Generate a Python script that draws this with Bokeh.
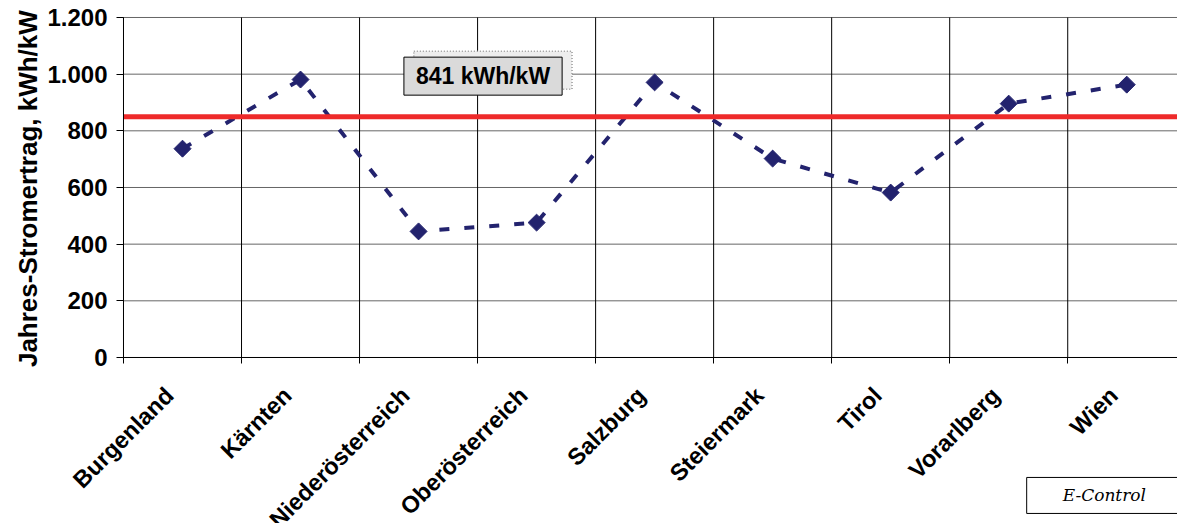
import math
from bokeh.plotting import figure
from bokeh.models import FixedTicker, Label, LabelSet, Range1d, ColumnDataSource
from bokeh.core.properties import value
from bokeh.embed import file_html
from bokeh.resources import INLINE

categories = ["Burgenland", "Kärnten", "Niederösterreich", "Oberösterreich", "Salzburg",
              "Steiermark", "Tirol", "Vorarlberg", "Wien"]
yield_values = [737, 981, 445, 476, 971, 702, 582, 896, 963]
avg_value = 850
avg_text = "841 kWh/kW"
y_ticks = [0, 200, 400, 600, 800, 1000, 1200]
y_tick_labels = ["0", "200", "400", "600", "800", "1.000", "1.200"]
y_title = "Jahres-Stromertrag, kWh/kW"
source_text = "E-Control"

n = len(categories)
xs = [i + 0.5 for i in range(n)]
bounds = list(range(n + 1))
src = ColumnDataSource(dict(x=xs, y=yield_values, cat=categories, y0=[y_ticks[0]] * n))
vgrid_src = ColumnDataSource(dict(x=bounds, y0=[y_ticks[0]] * len(bounds),
                                  y1=[y_ticks[-1]] * len(bounds)))
hgrid_src = ColumnDataSource(dict(y=y_ticks, x0=[bounds[0]] * len(y_ticks),
                                  x1=[bounds[-1]] * len(y_ticks)))
avg_src = ColumnDataSource(dict(y=[avg_value], x0=[bounds[0]], x1=[bounds[-1]]))

FONT = "Liberation Sans"
NAVY = "#23236E"

# The frame covers the whole canvas; both axes are drawn at value 0 inside it,
# so that all texts (annotations) are visible and nothing is clipped.
p = figure(width=1177, height=523, output_backend="svg", toolbar_location=None,
           x_range=Range1d(-1.042, 8.93), y_range=Range1d(-586, 1260),
           min_border_left=0, min_border_right=0, min_border_top=0, min_border_bottom=0)
p.outline_line_color = None
p.xgrid.grid_line_color = None
p.ygrid.grid_line_color = None

# category axis: tick marks at category boundaries
p.xaxis.fixed_location = 0
p.xaxis.bounds = (bounds[0], bounds[-1])
p.xaxis.ticker = FixedTicker(ticks=bounds)
p.xaxis.major_label_overrides = {b: "" for b in bounds}
p.xaxis.major_label_text_font_size = "1px"
p.xaxis.major_tick_out = 6
p.xaxis.major_tick_in = 0
p.xaxis.minor_tick_line_color = None
p.xaxis.axis_line_color = "black"
p.xaxis.major_tick_line_color = "black"

# value axis
p.yaxis.fixed_location = 0
p.yaxis.bounds = (y_ticks[0], y_ticks[-1])
p.yaxis.ticker = FixedTicker(ticks=y_ticks)
p.yaxis.major_label_overrides = dict(zip(y_ticks, y_tick_labels))
p.yaxis.major_label_text_font = FONT
p.yaxis.major_label_text_font_style = "bold"
p.yaxis.major_label_text_font_size = "24px"
p.yaxis.major_label_text_color = "black"
p.yaxis.major_label_standoff = 9
p.yaxis.major_tick_out = 7
p.yaxis.major_tick_in = 0
p.yaxis.minor_tick_line_color = None
p.yaxis.axis_line_color = "black"
p.yaxis.major_tick_line_color = "black"

# grid lines limited to the plot area
p.segment(x0="x0", y0="y", x1="x1", y1="y", source=hgrid_src, line_color="#666666", line_width=1)
p.segment(x0="x", y0="y0", x1="x", y1="y1", source=vgrid_src, line_color="black", line_width=1)

# data
p.line("x", "y", source=src, line_color=NAVY, line_width=4, line_dash="10 15")
p.scatter("x", "y", source=src, marker="square", angle=math.pi / 4, size=12,
          fill_color=NAVY, line_color=NAVY)

# average line
p.segment(x0="x0", y0="y", x1="x1", y1="y", source=avg_src, line_color="#EE2A2A", line_width=5)

# y axis title
p.add_layout(Label(x=-0.813, y=596, text=y_title, angle=math.pi / 2, text_align="center",
                   text_baseline="middle", text_font=FONT, text_font_style="bold",
                   text_font_size="26px", text_color="black"))

# category labels
p.add_layout(LabelSet(x="x", y="y0", text="cat", source=src, angle=math.pi / 4,
                      text_align="right", text_baseline="middle", x_offset=-13, y_offset=-34,
                      text_font=value(FONT), text_font_style="bold", text_font_size="23.5px",
                      text_color="black"))

# average label box with dotted shadow
p.add_layout(Label(x=3.13, y=1014, text=avg_text, text_color="#EEEEEE", text_align="center",
                   text_baseline="middle", text_font=FONT, text_font_style="bold",
                   text_font_size="23px",
                   padding=dict(left=12, right=12, top=6, bottom=6),
                   background_fill_color="#EEEEEE",
                   border_line_color="#999999", border_line_dash="1 2", border_line_width=1.5))
p.add_layout(Label(x=3.046, y=993, text=avg_text, text_align="center",
                   text_baseline="middle", text_font=FONT, text_font_style="bold",
                   text_font_size="23px", text_color="black",
                   padding=dict(left=12, right=12, top=6, bottom=6),
                   background_fill_color="#DADADA",
                   border_line_color="black", border_line_width=1))

# source box
p.add_layout(Label(x=8.31, y=-487, text=source_text, text_align="center",
                   text_baseline="middle", text_font="DejaVu Serif", text_font_style="italic",
                   text_font_size="17px", text_color="black",
                   padding=dict(left=36, right=36, top=8, bottom=8),
                   background_fill_color="white",
                   border_line_color="black", border_line_width=1))

open("out.html", "w").write(file_html(p, INLINE))
